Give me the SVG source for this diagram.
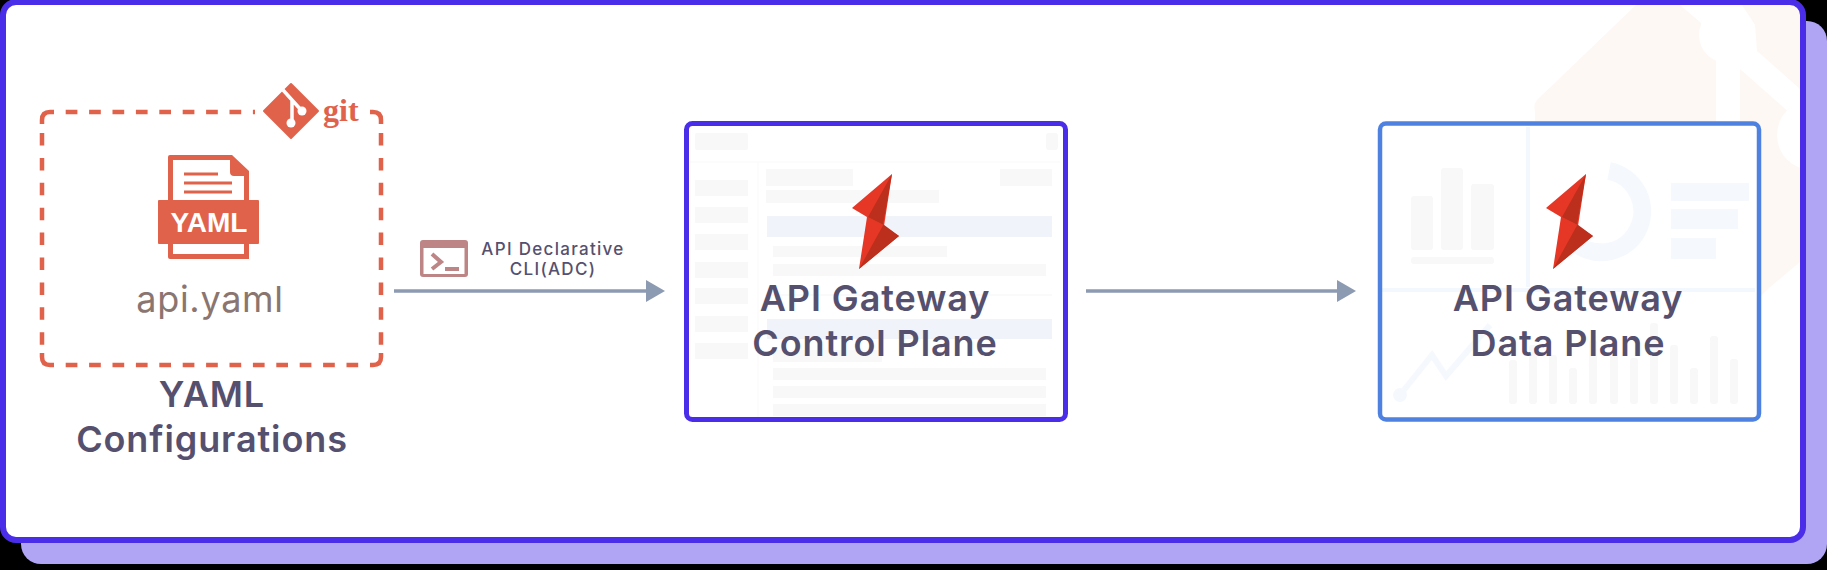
<svg xmlns="http://www.w3.org/2000/svg" width="1827" height="570" viewBox="0 0 1827 570">
<style>
.title{font-family:Inter,"Liberation Sans",sans-serif;font-weight:600;font-size:36px;fill:#56506f;text-anchor:middle;letter-spacing:.9px}
.lab{font-family:Inter,"Liberation Sans",sans-serif;font-weight:500;font-size:17px;fill:#56506f;text-anchor:middle;letter-spacing:1.3px}
.g{fill:#f8f8f8}.b{fill:#f1f3fb}.p{fill:#f5f9fe}
.conn{stroke:#8c9ab2;stroke-width:3.6;fill:none;marker-end:url(#arr)}
.or{fill:#e0624b}
.dash{fill:none;stroke:#e0624b;stroke-width:4.500}
</style>
<defs>
<marker id="arr" markerUnits="userSpaceOnUse" markerWidth="20" markerHeight="24" refX="1" refY="12" orient="auto"><path d="M0 1L19 12L0 23Z" fill="#8c9ab2"/></marker>
<clipPath id="inner"><rect x="6" y="5" width="1794" height="532" rx="10"/></clipPath>
<g id="bolt">
<path d="M892 174L884 226L899 236L859 269L867 217L852 208Z" fill="#e63726"/>
<path d="M892 174L868 217L883 224.500Z" fill="#bb2f1c"/>
<path d="M883.500 224.500L899 236L859 269Z" fill="#bb2f1c"/>
</g>
</defs>
<rect width="1827" height="570" fill="#000"/>
<rect x="21" y="21" width="1806" height="543" rx="20" fill="#b0a5f5"/>
<g id="frame">
<rect x="3" y="2" width="1800" height="538" rx="13" fill="#fff"/>
<g clip-path="url(#inner)">
<path d="M1636 5L1537 100Q1533 105 1535 112V125H1759V298L1769 288L1800 262V5Z" fill="#fdf8f4"/>
<path d="M1680 5L1700 22L1716 40V125H1740V69L1800 122V89L1757 51L1755 25L1742 5Z" fill="#fff"/>
<circle cx="1727" cy="35" r="28" fill="#fff"/>
<circle cx="1812" cy="135" r="35" fill="#fff"/>
</g>
<rect x="3" y="2" width="1800" height="538" rx="13" fill="none" stroke="#4a2de8" stroke-width="6"/>
</g>
<g id="connectors">
<path class="conn" d="M394 291H647"/>
<path class="conn" d="M1086 291H1338"/>
</g>
<g id="cli-label">
<rect x="420" y="240" width="48" height="37" rx="3" fill="#bd8585"/>
<rect x="423.500" y="248" width="41" height="26" fill="#fff"/>
<path d="M432 254L441 262L432 269" fill="none" stroke="#bd8585" stroke-width="4"/>
<rect x="445" y="267" width="14" height="4" fill="#bd8585"/>
<text class="lab" x="553" y="255">API Declarative</text>
<text class="lab" x="553" y="275">CLI(ADC)</text>
</g>
<g id="yaml">
<path class="dash" d="M42 124V120Q42 112 50 112H54M370 112H373Q381 112 381 120V124M42 353V357Q42 365 50 365H54M370 365H373Q381 365 381 357V353"/>
<path class="dash" d="M65.700 112H255M65.700 365H360" stroke-dasharray="11.700 11.700"/>
<path class="dash" d="M42 133V345M381 133V345" stroke-dasharray="12.500 12.400"/>
<path class="or" d="M291 84L318 111L291 138L264 111Z" stroke="#e0624b" stroke-width="2" stroke-linejoin="round"/>
<path d="M283 90L292 100V123M292 100L302 111" fill="none" stroke="#fff" stroke-width="3.500"/>
<circle cx="291" cy="123" r="4.500" fill="#fff"/>
<circle cx="302" cy="111" r="4.500" fill="#fff"/>
<text x="323" y="121" font-family="'Liberation Serif',serif" font-weight="700" font-size="32" fill="#e0624b">git</text>
<path class="or" d="M170 155H232L249 171V259H170Q168 259 168 257V157Q168 155 170 155Z"/>
<path d="M173 160H230V172Q230 176 234 176H244V200H173ZM173 244H244V254H173Z" fill="#fff"/>
<path d="M184 172.500H218V175.500H184ZM184 181.500H232V184.500H184ZM184 190.500H232V193.500H184Z" class="or"/>
<rect class="or" x="158" y="200" width="101" height="44" rx="1"/>
<text x="209" y="232" font-family="'Liberation Sans',sans-serif" font-weight="700" font-size="28" fill="#fff" text-anchor="middle">YAML</text>
<text x="210" y="312" font-family="Inter,sans-serif" font-size="36" fill="#8a7570" text-anchor="middle" letter-spacing=".7">api.yaml</text>
<text class="title" x="212" y="407">YAML</text>
<text class="title" x="212" y="452">Configurations</text>
</g>
<g id="control-plane">
<rect x="686.500" y="123.500" width="379" height="296" rx="6" fill="#fff"/>
<path d="M690 162H1060M758 162V418" stroke="#fbfbfb" stroke-width="1.500" fill="none"/>
<rect class="g" x="695" y="133" width="53" height="17" rx="2"/><rect class="g" x="1046" y="133" width="12" height="17" rx="3"/>
<rect class="g" x="695" y="180" width="53" height="16"/><rect class="g" x="695" y="207" width="53" height="16"/><rect class="g" x="695" y="234" width="53" height="16"/><rect class="g" x="695" y="262" width="53" height="16"/><rect class="g" x="695" y="288" width="53" height="16"/><rect class="g" x="695" y="316" width="53" height="16"/><rect class="g" x="695" y="343" width="53" height="16"/>
<rect class="g" x="766" y="169" width="87" height="17"/><rect class="g" x="1000" y="169" width="52" height="17"/><rect class="g" x="766" y="190" width="173" height="13"/>
<rect class="b" x="767" y="216" width="285" height="21"/><rect class="g" x="773" y="246" width="174" height="11"/><rect class="g" x="773" y="264" width="273" height="12"/>
<path d="M767 295H1052" stroke="#fafafa" stroke-width="2"/>
<rect class="b" x="767" y="319" width="285" height="20"/><rect class="g" x="773" y="350" width="109" height="12"/><rect class="g" x="773" y="368" width="273" height="12"/><rect class="g" x="773" y="386" width="273" height="12"/><rect class="g" x="773" y="404" width="273" height="12"/>
<rect x="686.500" y="123.500" width="379" height="296" rx="6" fill="none" stroke="#4a2de8" stroke-width="5"/>
<use href="#bolt"/>
<text class="title" x="875" y="311">API Gateway</text>
<text class="title" x="875" y="356">Control Plane</text>
</g>
<g id="data-plane">
<rect x="1380" y="123.500" width="379" height="296" rx="6" fill="#fff"/>
<rect class="g" x="1411" y="196" width="22" height="54" rx="3"/><rect class="g" x="1441" y="168" width="22" height="82" rx="3"/><rect class="g" x="1471" y="184" width="23" height="66" rx="3"/><rect class="g" x="1411" y="257" width="83" height="7" rx="3"/>
<path d="M1528 127V287M1382 290H1755" stroke="#f3f8fe" stroke-width="4" fill="none"/>
<path d="M1609 171A41 41 0 1 1 1572 240" fill="none" stroke="#f5f9fe" stroke-width="18"/>
<rect class="p" x="1671" y="183" width="78" height="18"/><rect class="p" x="1671" y="209" width="67" height="20"/><rect class="p" x="1671" y="238" width="45" height="21"/>
<path d="M1400 395L1432 355L1446 376L1490 325" fill="none" stroke="#f5f9fe" stroke-width="6"/><circle class="p" cx="1400" cy="395" r="7"/>
<rect class="g" x="1509" y="360" width="8" height="44" rx="3"/><rect class="g" x="1529" y="345" width="8" height="59" rx="3"/><rect class="g" x="1549" y="355" width="8" height="49" rx="3"/><rect class="g" x="1569" y="368" width="8" height="36" rx="3"/><rect class="g" x="1589" y="340" width="8" height="64" rx="3"/><rect class="g" x="1610" y="355" width="8" height="49" rx="3"/><rect class="g" x="1630" y="358" width="8" height="46" rx="3"/><rect class="g" x="1650" y="323" width="8" height="81" rx="3"/><rect class="g" x="1670" y="345" width="8" height="59" rx="3"/><rect class="g" x="1690" y="368" width="8" height="36" rx="3"/><rect class="g" x="1710" y="336" width="8" height="68" rx="3"/><rect class="g" x="1730" y="359" width="8" height="45" rx="3"/>
<rect x="1380" y="123.500" width="379" height="296" rx="6" fill="none" stroke="#4f82e0" stroke-width="4.500"/>
<use href="#bolt" x="694"/>
<text class="title" x="1568" y="311">API Gateway</text>
<text class="title" x="1568" y="356">Data Plane</text>
</g>
</svg>
